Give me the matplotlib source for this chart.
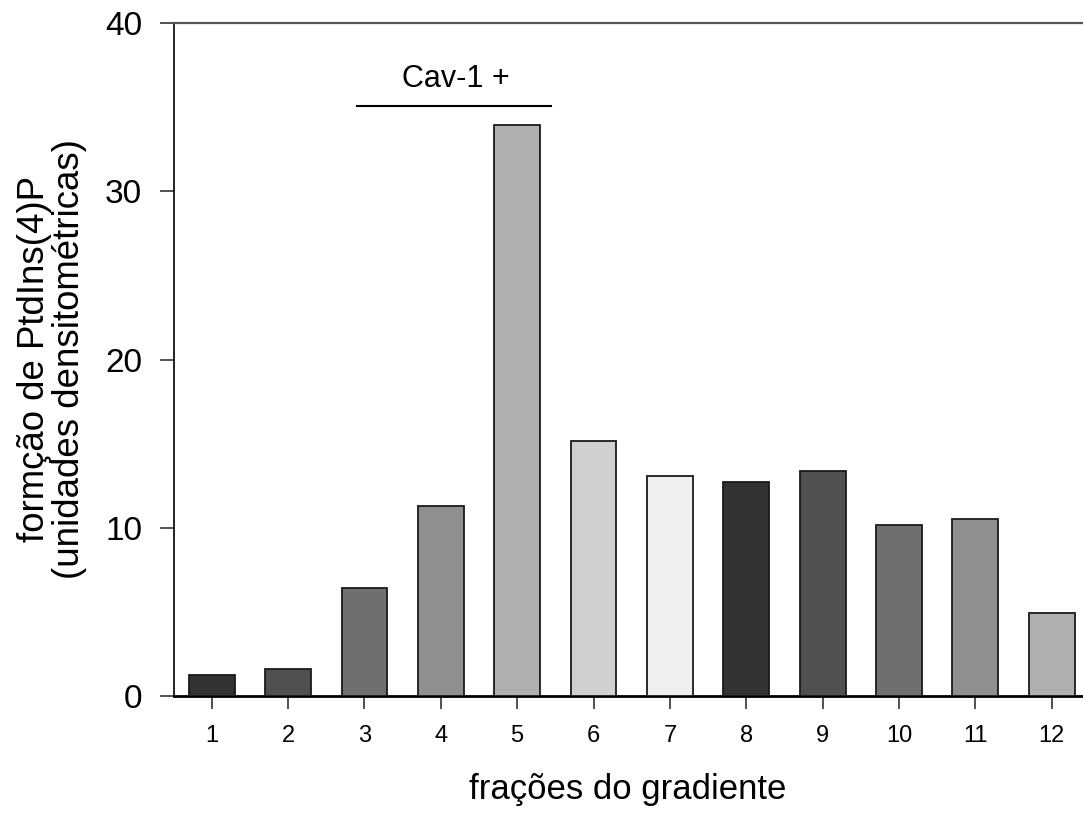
import matplotlib
matplotlib.use("Agg")
import matplotlib.pyplot as plt

plt.rcParams['font.family'] = ['Liberation Sans', 'DejaVu Sans']

fractions = [1, 2, 3, 4, 5, 6, 7, 8, 9, 10, 11, 12]
values = [1.27, 1.62, 6.42, 11.29, 33.93, 15.15, 13.07, 12.72, 13.37, 10.14, 10.50, 4.95]
bar_colors = ['#333333', '#505050', '#6f6f6f', '#8f8f8f', '#b0b0b0', '#d0d0d0',
              '#efefef', '#333333', '#505050', '#6f6f6f', '#8f8f8f', '#b0b0b0']
y_ticks = [0, 10, 20, 30, 40]

fig = plt.figure(figsize=(10.83, 8.16), dpi=100)
ax = fig.add_axes([174 / 1083, 120 / 816, 1 - 174 / 1083, 673 / 816])

ax.bar(fractions, values, width=0.6, color=bar_colors, edgecolor='#1a1a1a',
       linewidth=1.3, zorder=3)

ax.set_xlim(0.506, 12.41)
ax.set_ylim(0, 40)
ax.set_xticks(fractions)
ax.set_yticks(y_ticks)
ax.tick_params(axis='x', direction='out', length=9, width=1.2, labelsize=17,
               pad=12, color='#333333')
ax.tick_params(axis='y', direction='out', length=10, width=1.2, labelsize=24,
               pad=13, color='#333333')

ax.spines['right'].set_visible(False)
ax.spines['left'].set_linewidth(1.2)
ax.spines['bottom'].set_linewidth(2.0)
ax.spines['top'].set_color('#555555')
ax.spines['top'].set_linewidth(1.6)

# marker for the caveolin-1 positive fractions
ax.plot([2.9, 5.443], [35.06, 35.06], color='black', linewidth=1.5, clip_on=False)
ax.text(4.2, 36.2, 'Cav-1 +', ha='center', va='baseline', fontsize=22)

ax.set_xlabel('frações do gradiente', fontsize=25)
ax.xaxis.set_label_coords(0.499, -0.114)
ax.set_ylabel('formção de PtdIns(4)P\n(unidades densitométricas)', fontsize=26.4,
              linespacing=1.0)
ax.yaxis.set_label_coords(-0.096, 0.5)

fig.savefig('out.png', dpi=100)
